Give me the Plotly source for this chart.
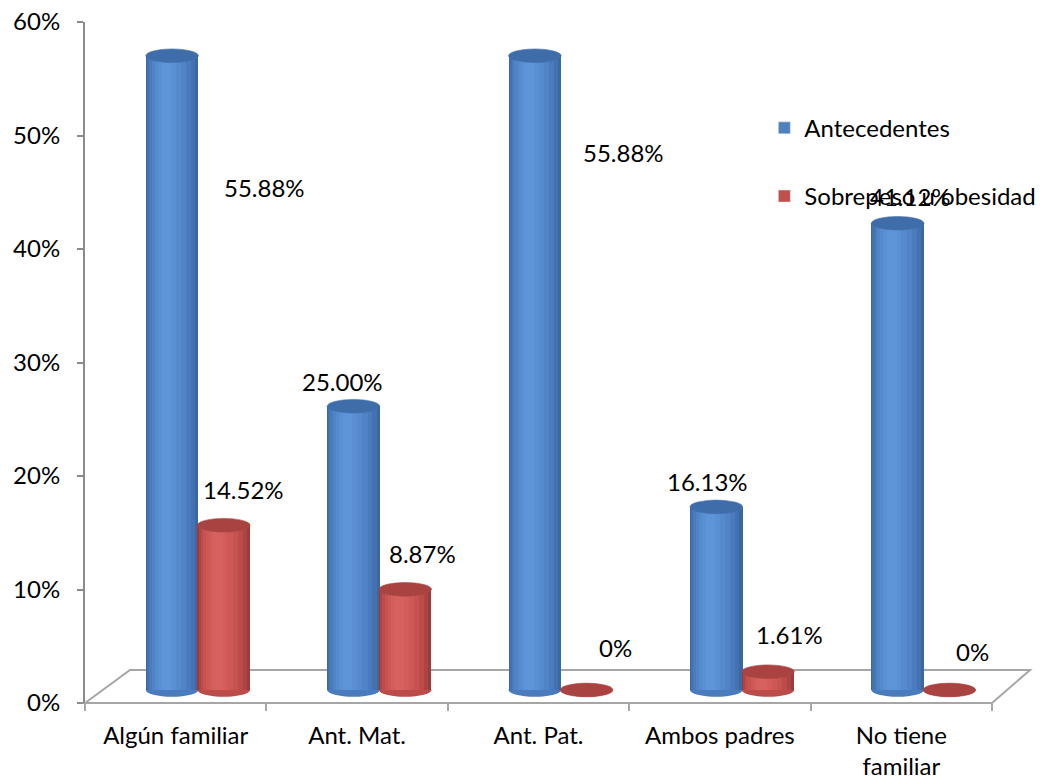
import plotly.graph_objects as go

# ---- data ----
categories = ["Algún familiar", "Ant. Mat.", "Ant. Pat.", "Ambos padres", "No tiene<br>familiar"]
antecedentes = [55.88, 25.00, 55.88, 16.13, 41.12]
sobrepeso = [14.52, 8.87, 0.0, 1.61, 0.0]
series_names = ["Antecedentes", "Sobrepeso u obesidad"]
y_ticks = [0, 10, 20, 30, 40, 50, 60]

# data-label anchor positions (x in category units, y in % of the value axis)
label_pos_a = [(0.487, 45.4), (0.917, 28.3), (2.466, 48.5), (2.929, 19.5), (4.048, 44.6)]
label_pos_s = [(0.371, 18.8), (1.358, 13.2), (2.422, 4.85), (3.386, 6.0), (4.395, 4.5)]

# ---- style ----
FONT = "Lato"
FS = 24
CYL_W = 0.29           # cylinder width in category units
OFFSETS = [-0.02, 0.265]
CAP_H = 1.2            # ellipse height in value units
SHADES = [
    # (relative width, relative shift, colour) per layer, outermost first
    [(1.00, 0.00, "#3B67A2"), (0.92, -0.02, "#4372B2"), (0.80, -0.04, "#4A7BBD"),
     (0.66, -0.06, "#5084C6"), (0.50, -0.08, "#558ACD"), (0.34, -0.10, "#5A90D3"),
     (0.18, -0.11, "#5E95D8")],
    [(1.00, 0.00, "#9B3C39"), (0.92, -0.02, "#AE4441"), (0.80, -0.04, "#BC4C49"),
     (0.66, -0.06, "#C65350"), (0.50, -0.08, "#CD5855"), (0.34, -0.10, "#D25D5A"),
     (0.18, -0.11, "#D6615E")],
]
CAP_COL = ["#3F6DAA", "#A84341"]
LEGEND_COL = ["#4F81BD", "#C0504D"]

fig = go.Figure()

all_series = [antecedentes, sobrepeso]
shapes = []
for s, vals in enumerate(all_series):
    centers = [i + OFFSETS[s] for i in range(len(vals))]
    for k, (rw, rs, col) in enumerate(SHADES[s]):
        fig.add_trace(go.Bar(
            x=[c + rs * CYL_W for c in centers],
            y=vals,
            width=CYL_W * rw,
            marker=dict(color=col, line=dict(width=0)),
            name=series_names[s],
            legendgroup=series_names[s],
            showlegend=False,
            yaxis="y2",
            hoverinfo="skip" if k else "x+y",
        ))
    # legend entry
    fig.add_trace(go.Bar(
        x=[None], y=[None], name=series_names[s], legendgroup=series_names[s],
        marker=dict(color=LEGEND_COL[s]), yaxis="y2", showlegend=True,
    ))
    for c, v in zip(centers, vals):
        # rounded bottom
        shapes.append(dict(type="circle", xref="x", yref="y2", layer="below",
                           x0=c - CYL_W / 2, x1=c + CYL_W / 2,
                           y0=-CAP_H / 2, y1=CAP_H / 2,
                           fillcolor=SHADES[s][2][2], line=dict(width=0)))
        # top cap
        shapes.append(dict(type="circle", xref="x", yref="y2", layer="above",
                           x0=c - CYL_W / 2, x1=c + CYL_W / 2,
                           y0=v - CAP_H / 2, y1=v + CAP_H / 2,
                           fillcolor=CAP_COL[s], line=dict(width=0.6, color=SHADES[s][1][2])))

# floor of the 3-D plot area (paper coordinates)
floor = dict(type="path", xref="paper", yref="paper", layer="below",
             path="M 0 0 L 0.0496 0.0485 L 1.042 0.0485 L 1.0 0 Z",
             fillcolor="rgba(255,255,255,0)", line=dict(color="#A6A6A6", width=2))
shapes.insert(0, floor)

annotations = []
for vals, pos in ((antecedentes, label_pos_a), (sobrepeso, label_pos_s)):
    for v, (px, py) in zip(vals, pos):
        txt = "0%" if v == 0 else f"{v:.2f}%"
        annotations.append(dict(x=px, y=py, xref="x", yref="y", text=txt,
                                showarrow=False, font=dict(family=FONT, size=FS, color="#000000")))

fig.update_layout(
    width=1046, height=782,
    margin=dict(l=85, r=54, t=22, b=79, autoexpand=False),
    paper_bgcolor="white", plot_bgcolor="white",
    barmode="overlay",
    bargap=0,
    font=dict(family=FONT, size=FS, color="#000000"),
    shapes=shapes,
    annotations=annotations,
    showlegend=True,
    legend=dict(x=0.749, y=0.877, xanchor="left", yanchor="top",
                traceorder="grouped", tracegroupgap=34,
                bgcolor="rgba(0,0,0,0)", font=dict(family=FONT, size=FS)),
    xaxis=dict(range=[-0.5, 4.5], tickvals=list(range(len(categories))), ticktext=categories,
               ticks="", showgrid=False, zeroline=False, showline=False,
               ticklabelstandoff=16, automargin=False,
               minor=dict(tick0=-0.5, dtick=1, ticks="outside", ticklen=7,
                          tickcolor="#A6A6A6", tickwidth=1.5, showgrid=False),
               tickfont=dict(family=FONT, size=FS)),
    yaxis=dict(range=[0, 60], tickvals=y_ticks, ticktext=[f"{t}%" for t in y_ticks],
               showgrid=False, zeroline=False, showline=True, linecolor="#8C8C8C", linewidth=2,
               ticks="outside", ticklen=6, tickcolor="#8C8C8C", tickwidth=1.5,
               ticklabelstandoff=12, automargin=False,
               tickfont=dict(family=FONT, size=FS)),
    yaxis2=dict(range=[-1.145, 58.855], overlaying="y", visible=False),
)

fig.write_html("out.html")
